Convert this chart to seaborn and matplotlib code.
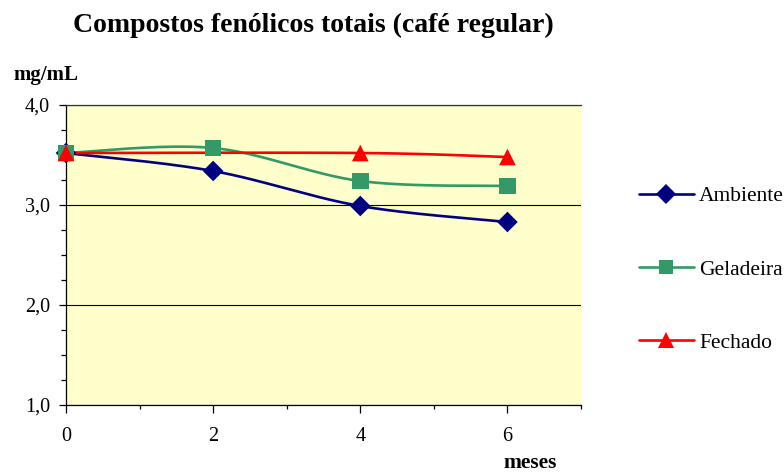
import numpy as np
import pandas as pd
import matplotlib
matplotlib.use("Agg")
import matplotlib.pyplot as plt
from matplotlib.ticker import FixedLocator, FuncFormatter
from matplotlib.lines import Line2D
import seaborn as sns

# Total phenolic compounds (mg/mL) over storage months
meses_amb = [0, 2, 4, 6]
ambiente = [3.52, 3.34, 2.99, 2.83]
meses_gel = [0, 2, 4, 6]
geladeira = [3.52, 3.57, 3.24, 3.19]
meses_fec = [0, 4, 6]
fechado = [3.52, 3.52, 3.48]

series_names = ["Ambiente", "Geladeira", "Fechado"]
colors = {"Ambiente": "#000080", "Geladeira": "#339966", "Fechado": "#FF0000"}
markers = {"Ambiente": "D", "Geladeira": "s", "Fechado": "^"}
msizes = {"Ambiente": 10.5, "Geladeira": 12.0, "Fechado": 12.0}
legend_msizes = {"Ambiente": 10.0, "Geladeira": 10.5, "Fechado": 11.0}

titulo = "Compostos fenólicos totais (café regular)"
rotulo_y = "mg/mL"
rotulo_x = "meses"

serif = ["Liberation Serif", "DejaVu Serif"]


def smooth_curve(xs, ys, n=60):
    """Cubic Bezier smoothing through the points (Catmull-Rom style handles)."""
    pts = np.column_stack([xs, ys]).astype(float)
    out = []
    for i in range(len(pts) - 1):
        p0 = pts[i - 1] if i > 0 else pts[i]
        p1 = pts[i]
        p2 = pts[i + 1]
        p3 = pts[i + 2] if i + 2 < len(pts) else pts[i + 1]
        c1 = p1 + (p2 - p0) / 6.0
        c2 = p2 - (p3 - p1) / 6.0
        t = np.linspace(0, 1, n)[:, None]
        seg = ((1 - t) ** 3) * p1 + 3 * ((1 - t) ** 2) * t * c1 + 3 * (1 - t) * t ** 2 * c2 + t ** 3 * p2
        out.append(seg if i == 0 else seg[1:])
    seg = np.vstack(out)
    return seg[:, 0], seg[:, 1]


raw = {
    "Ambiente": (meses_amb, ambiente),
    "Geladeira": (meses_gel, geladeira),
    "Fechado": (meses_fec, fechado),
}

frames = []
for name in series_names:
    sx, sy = smooth_curve(*raw[name])
    frames.append(pd.DataFrame({"mes": sx, "valor": sy, "serie": name}))
curves = pd.concat(frames, ignore_index=True)

sns.set_theme(style="white")
plt.rcParams["font.family"] = serif
plt.rcParams["text.color"] = "black"
plt.rcParams["xtick.color"] = "black"
plt.rcParams["ytick.color"] = "black"

fig = plt.figure(figsize=(7.84, 4.72), dpi=100)
ax = fig.add_axes([66 / 784, 1 - 405 / 472, (581 - 66) / 784, 300 / 472])
ax.set_facecolor("#FFFFCC")

sns.lineplot(data=curves, x="mes", y="valor", hue="serie", units="serie", estimator=None,
             sort=False, palette=colors, linewidth=1.9, legend=False, ax=ax, zorder=2)

for name in series_names:
    xs, ys = raw[name]
    sns.scatterplot(x=xs, y=ys, marker=markers[name], s=msizes[name] ** 2,
                    color=colors[name], edgecolor="none", linewidth=0, ax=ax,
                    zorder=3, clip_on=False)

ax.set_xlim(0, 7)
ax.set_ylim(1, 4)
ax.xaxis.set_major_locator(FixedLocator([0, 2, 4, 6]))
ax.xaxis.set_minor_locator(FixedLocator([1, 3, 5, 7]))
ax.yaxis.set_major_locator(FixedLocator([1, 2, 3, 4]))
ax.yaxis.set_minor_locator(FixedLocator(np.arange(1, 4.01, 0.25)))
ax.yaxis.set_major_formatter(FuncFormatter(lambda v, p: f"{v:.1f}".replace(".", ",")))
ax.xaxis.set_major_formatter(FuncFormatter(lambda v, p: f"{v:.0f}"))

ax.tick_params(axis="both", which="both", direction="out", color="black", width=0.9,
               labelcolor="black")
ax.tick_params(axis="x", which="major", length=5.5, pad=10, labelsize=14.5)
ax.tick_params(axis="x", which="minor", length=3)
ax.tick_params(axis="y", which="major", length=5, pad=6.5, labelsize=14.5)
ax.tick_params(axis="y", which="minor", length=3.6)
ax.tick_params(bottom=True, left=True, which="both")

ax.yaxis.grid(True, which="major", color="black", linewidth=0.8)
ax.xaxis.grid(False)
ax.set_axisbelow(True)
for side in ["left", "bottom"]:
    ax.spines[side].set_color("black")
    ax.spines[side].set_linewidth(0.9)
ax.spines["top"].set_color("#333333")
ax.spines["top"].set_linewidth(0.9)
ax.spines["right"].set_visible(False)
ax.set_xlabel("")
ax.set_ylabel("")

handles = [Line2D([], [], color=colors[n], marker=markers[n], linewidth=1.9,
                  markersize=legend_msizes[n], markeredgewidth=0) for n in series_names]
fig.legend(handles, series_names, loc="upper left", bbox_to_anchor=(639 / 784, 1 - 186 / 472),
           frameon=False, fontsize=15.5, handlelength=2.55, handletextpad=0.25,
           labelspacing=2.48, borderpad=0, borderaxespad=0)

fig.text(313 / 784, 1 - 25 / 472, titulo, ha="center", va="center",
         fontsize=20, fontweight="bold", color="black")
fig.text(13 / 784, 1 - 75 / 472, rotulo_y, ha="left", va="center",
         fontsize=15, fontweight="bold", color="black")
fig.text(530 / 784, 1 - 463 / 472, rotulo_x, ha="center", va="center",
         fontsize=15.5, fontweight="bold", color="black")

fig.savefig("out.png", dpi=100)
